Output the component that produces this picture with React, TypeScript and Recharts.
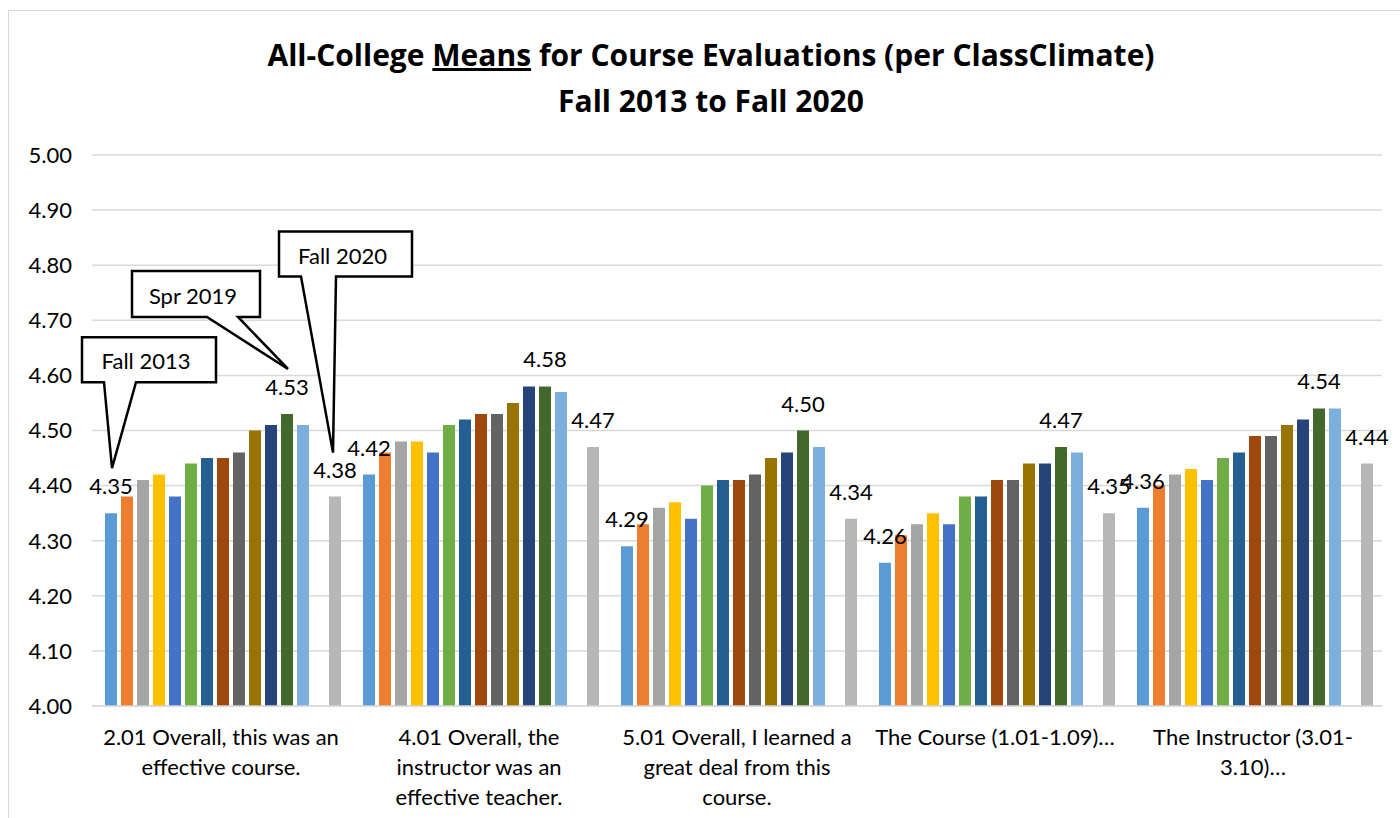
import React from 'react';
import { BarChart, Bar, XAxis, YAxis, CartesianGrid, LabelList } from 'recharts';

const FONT = 'Lato, "Open Sans", "Noto Sans", sans-serif';
const TITLE_FONT = '"Open Sans", Lato, "Noto Sans", sans-serif';

const categories = [
  '2.01 Overall, this was an effective course.',
  '4.01 Overall, the instructor was an effective teacher.',
  '5.01 Overall, I learned a great deal from this course.',
  'The Course (1.01-1.09)…',
  'The Instructor (3.01-3.10)…',
];

const categoryLines = [
  ['2.01 Overall, this was an', 'effective course.'],
  ['4.01 Overall, the', 'instructor was an', 'effective teacher.'],
  ['5.01 Overall, I learned a', 'great deal from this', 'course.'],
  ['The Course (1.01-1.09)…'],
  ['The Instructor (3.01-', '3.10)…'],
];

const seriesNames = [
  'Fall 2013', 'Spr 2014', 'Fall 2014', 'Spr 2015', 'Fall 2015', 'Spr 2016', 'Fall 2016',
  'Spr 2017', 'Fall 2017', 'Spr 2018', 'Fall 2018', 'Spr 2019', 'Fall 2019', 'Spr 2020', 'Fall 2020',
];

const seriesColors = [
  '#5B9BD5', '#ED7D31', '#A5A5A5', '#FFC000', '#4472C4', '#70AD47', '#255E91',
  '#9E480E', '#636363', '#997300', '#264478', '#43682B', '#7CAFDD', '#F1975A', '#B7B7B7',
];

// values per category, in series order (Spr 2020 missing)
const effectiveCourse = [4.35, 4.38, 4.41, 4.42, 4.38, 4.44, 4.45, 4.45, 4.46, 4.50, 4.51, 4.53, 4.51, null, 4.38];
const effectiveTeacher = [4.42, 4.46, 4.48, 4.48, 4.46, 4.51, 4.52, 4.53, 4.53, 4.55, 4.58, 4.58, 4.57, null, 4.47];
const learnedGreatDeal = [4.29, 4.33, 4.36, 4.37, 4.34, 4.40, 4.41, 4.41, 4.42, 4.45, 4.46, 4.50, 4.47, null, 4.34];
const theCourse = [4.26, 4.31, 4.33, 4.35, 4.33, 4.38, 4.38, 4.41, 4.41, 4.44, 4.44, 4.47, 4.46, null, 4.35];
const theInstructor = [4.36, 4.40, 4.42, 4.43, 4.41, 4.45, 4.46, 4.49, 4.49, 4.51, 4.52, 4.54, 4.54, null, 4.44];

const categoryValues = [effectiveCourse, effectiveTeacher, learnedGreatDeal, theCourse, theInstructor];

const yTicks = [4.0, 4.1, 4.2, 4.3, 4.4, 4.5, 4.6, 4.7, 4.8, 4.9, 5.0];

const labeledSeries = ['Fall 2013', 'Spr 2019', 'Fall 2020'];

const data = categories.map((c, ci) => {
  const row: any = { name: c };
  seriesNames.forEach((s, si) => {
    row[s] = categoryValues[ci][si];
  });
  return row;
});

type Callout = {
  text: string;
  box: [number, number, number, number]; // left, top, right, bottom relative to (bar center, bar top)
  base: [number, number];
  tip: [number, number];
};

const callouts: Record<string, Callout> = {
  'Fall 2013': { text: 'Fall 2013', box: [-29, -176, 105, -131], base: [-7, 25], tip: [1, -45] },
  'Spr 2019': { text: 'Spr 2019', box: [-155, -143, -27, -97], base: [-80, -49], tip: [1, -45] },
  'Fall 2020': { text: 'Fall 2020', box: [-56, -265, 77, -220], base: [-34, 1], tip: [-2, -44] },
};

const makeLabel = (series: string) => (props: any) => {
  const { x, y, width, value, index } = props;
  if (value == null) return null;
  const cx = Number(x) + Number(width) / 2;
  const ty = Number(y);
  const co = index === 0 ? callouts[series] : undefined;
  return (
    <g>
      <text x={cx} y={ty - 19} textAnchor="middle" fontSize={22} fontFamily={FONT} fill="#000">
        {Number(value).toFixed(2)}
      </text>
      {co && (
        <g>
          <path
            d={`M${cx + co.box[0]},${ty + co.box[1]} L${cx + co.box[2]},${ty + co.box[1]} L${cx + co.box[2]},${ty + co.box[3]} L${cx + co.base[1]},${ty + co.box[3]} L${cx + co.tip[0]},${ty + co.tip[1]} L${cx + co.base[0]},${ty + co.box[3]} L${cx + co.box[0]},${ty + co.box[3]} Z`}
            fill="#fff"
            stroke="#000"
            strokeWidth={2.5}
            strokeLinejoin="miter"
          />
          <text
            x={cx + (co.box[0] + co.box[2]) / 2 - 3}
            y={ty + co.box[3] - 13}
            textAnchor="middle"
            fontSize={22}
            fontFamily={FONT}
            fill="#000"
          >
            {co.text}
          </text>
        </g>
      )}
    </g>
  );
};

const CategoryTick = (props: any) => {
  const { x, y, payload } = props;
  const idx = categories.indexOf(payload.value);
  const lines = categoryLines[idx] || [];
  return (
    <g>
      {lines.map((l, i) => (
        <text key={i} x={x} y={y + 31 + i * 30} textAnchor="middle" fontSize={22} fontFamily={FONT} fill="#000">
          {l}
        </text>
      ))}
    </g>
  );
};

export default function App() {
  return (
    <div style={{ position: 'fixed', left: 0, top: 0, width: 1400, height: 818, overflow: 'hidden', background: '#fff' }}>
      <div
        style={{
          position: 'absolute',
          left: 8,
          top: 10,
          width: 1420,
          height: 840,
          border: '1.5px solid #d9d9d9',
          boxSizing: 'border-box',
        }}
      />
      <div style={{ position: 'absolute', left: 0, top: 0 }}>
        <BarChart
          width={1400}
          height={818}
          data={data}
          margin={{ top: 155, right: 18, bottom: 12, left: 0 }}
          barCategoryGap={13}
          barGap={4}
        >
          <CartesianGrid vertical={false} stroke="#d9d9d9" strokeWidth={1.5} />
          <XAxis
            dataKey="name"
            axisLine={{ stroke: '#d9d9d9', strokeWidth: 1.5 }}
            tickLine={false}
            height={100}
            interval={0}
            tick={<CategoryTick />}
          />
          <YAxis
            domain={[4, 5]}
            ticks={yTicks}
            allowDataOverflow
            tickFormatter={(v: number) => v.toFixed(2)}
            axisLine={false}
            tickLine={false}
            tickSize={0}
            tickMargin={20}
            width={92}
            tick={{ fontSize: 22, fill: '#000', fontFamily: FONT }}
          />
          {seriesNames.map((s, i) => (
            <Bar key={s} dataKey={s} fill={seriesColors[i]} isAnimationActive={false}>
              {labeledSeries.includes(s) && <LabelList dataKey={s} content={makeLabel(s)} />}
            </Bar>
          ))}
        </BarChart>
      </div>
      <div
        style={{
          position: 'absolute',
          left: 0,
          top: 32,
          width: 1422,
          textAlign: 'center',
          fontFamily: TITLE_FONT,
          fontWeight: 'bold',
          fontSize: 30,
          lineHeight: '46px',
          color: '#000',
        }}
      >
        <div>
          All-College <span style={{ textDecoration: 'underline' }}>Means</span> for Course Evaluations (per ClassClimate)
        </div>
        <div>Fall 2013 to Fall 2020</div>
      </div>
    </div>
  );
}
